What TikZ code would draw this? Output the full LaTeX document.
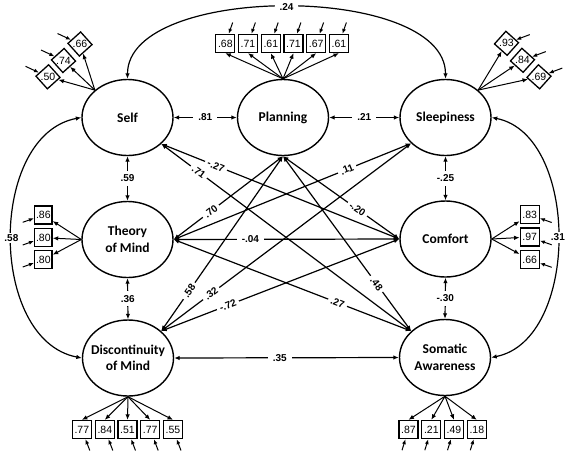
\documentclass[tikz,border=0pt]{standalone}
\usepackage{fontspec}
\newfontfamily\facfont{Carlito}
\newfontfamily\numfont{Liberation Sans}
\usetikzlibrary{arrows.meta,shapes.geometric,calc}
\tikzset{
  fac/.style={draw, ellipse, line width=1.4pt, minimum width=91pt, minimum height=76pt, inner sep=0pt},
  factxt/.style={font=\facfont\bfseries\fontsize{13.5}{16.5}\selectfont, align=center, inner sep=0pt},
  ind/.style={draw, line width=1.3pt, minimum width=19pt, minimum height=18pt, inner sep=0pt, font=\numfont\fontsize{10.5}{12}\selectfont},
  rind/.style={draw, line width=1.3pt, minimum size=17pt, inner sep=0pt, font=\numfont\fontsize{10.5}{12}\selectfont},
  cov/.style={line width=1.2pt, {Latex[length=5.5pt,width=4.5pt]}-{Latex[length=5.5pt,width=4.5pt]}},
  load/.style={line width=1pt, -{Latex[length=5.5pt,width=4.5pt]}},
  err/.style={line width=1pt, -{Latex[length=5pt,width=4pt]}},
  lab/.style={fill=white, font=\numfont\bfseries\fontsize{10}{12}\selectfont, inner xsep=5pt, inner ysep=1.5pt},
  vlab/.style={lab, inner xsep=2pt, inner ysep=4pt},
  slab/.style={lab, sloped, inner xsep=3pt, inner ysep=0.5pt},
}
\begin{document}
\begin{tikzpicture}[x=1pt,y=-1pt]
\useasboundingbox (0,0) rectangle (567,456);
% latent factors
\node[fac] (self)  at (127.5,117.5) {};
\node[fac] (plan)  at (283,117.5) {};
\node[fac] (sleep) at (445.5,117.5) {};
\node[fac] (tom)   at (127.5,239.5) {};
\node[fac] (comf)  at (445.5,239) {};
\node[fac] (disc)  at (128,358) {};
\node[fac] (soma)  at (445,357.5) {};
\node[factxt] (self-t)  at (self)  {Self};
\node[factxt] (plan-t)  at (plan)  {Planning};
\node[factxt] (sleep-t) at (sleep) {Sleepiness};
\node[factxt] (tom-t)   at (tom)   {Theory\\of Mind};
\node[factxt] (comf-t)  at (comf)  {Comfort};
\node[factxt] (disc-t)  at (disc)  {Discontinuity\\of Mind};
\node[factxt] (soma-t)  at (soma)  {Somatic\\Awareness};

% Self indicators
\foreach \x/\y/\v [count=\i] in {80/44/.66, 63.5/60.5/.74, 48/76.8/.50} {
  \node[rind, rotate=42] (s\i) at (\x,\y) {\rotatebox{-42}{\v}};
  \draw[load] (self.140) -- (s\i);
  \draw[err] ($(s\i)+(-22.5,-10.5)$) -- (s\i);
}
% Sleepiness indicators
\foreach \x/\y/\v [count=\i] in {506.5/43.3/.93, 522.5/60.3/.84, 539/76.8/.69} {
  \node[rind, rotate=-42] (z\i) at (\x,\y) {\rotatebox{42}{\v}};
  \draw[load] (sleep.40) -- (z\i);
  \draw[err] ($(z\i)+(23.3,-8.7)$) -- (z\i);
}
% Planning indicators
\foreach \x/\v [count=\i] in {225.3/.68, 248/.71, 270.8/.61, 293.5/.71, 316.2/.67, 339/.61} {
  \node[ind] (p\i) at (\x,43.5) {\v};
  \draw[load] (plan.north) -- (p\i.south);
  \draw[err] ($(p\i)+(7.4,-21)$) -- (p\i);
}
% Theory of Mind indicators
\foreach \y/\v [count=\i] in {215/.86, 237.7/.80, 259.7/.80} {
  \node[ind, minimum width=17.5pt] (t\i) at (43.3,\y) {\v};
  \draw[load] (tom.west) -- (t\i);
  \draw[err] ($(t\i)+(-20.6,7.3)$) -- (t\i);
}
% Comfort indicators
\foreach \y/\v [count=\i] in {214.7/.83, 237/.97, 259.5/.66} {
  \node[ind, minimum width=19pt] (c\i) at (529.7,\y) {\v};
  \draw[load] (comf.east) -- (c\i);
  \draw[err] ($(c\i)+(22,7.8)$) -- (c\i);
}
% Discontinuity indicators
\foreach \x/\v [count=\i] in {81.8/.77, 104.8/.84, 127.5/.51, 150.2/.77, 173/.55} {
  \node[ind] (d\i) at (\x,429.5) {\v};
  \draw[load] (disc.south) -- (d\i.north);
  \draw[err] ($(d\i)+(8,21)$) -- (d\i);
}
% Somatic indicators
\foreach \x/\v [count=\i] in {408.5/.87, 431.3/.21, 454/.49, 476.8/.18} {
  \node[ind] (m\i) at (\x,429.5) {\v};
  \draw[load] (soma.south) -- (m\i.north);
  \draw[err] ($(m\i)+(-6.5,20.7)$) -- (m\i);
}

% covariances: curves
\draw[cov] (self.north) .. controls (127.5,-17) and (445.5,-17) .. node[lab, pos=0.5]{.24} (sleep.north);
\draw[cov] (self.west) .. controls (-12,135) and (-12,340) .. node[lab, pos=0.5, inner xsep=2pt]{.58} (disc.west);
\draw[cov] (sleep.east) .. controls (580,135) and (580,340) .. node[lab, pos=0.5, inner xsep=2pt]{.31} (soma.east);

% covariances: straight, diagonals first
\draw[cov] (self.-38) -- node[slab, pos=0.23]{-.27} (comf.west);
\draw[cov] (self.-38) -- node[slab, pos=0.15]{.71} (soma.142);
\draw[cov] (plan.south) -- node[slab, pos=0.66]{.70} (tom.east);
\draw[cov] (plan.south) -- node[slab, pos=0.77]{.58} (disc.39);
\draw[cov] (plan.south) -- node[slab, pos=0.64]{-.20} (comf.west);
\draw[cov] (plan.south) -- node[slab, pos=0.73]{.48} (soma.142);
\draw[cov] (sleep.-143) -- node[slab, pos=0.27]{.11} (tom.east);
\draw[cov] (sleep.-143) -- node[slab, pos=0.80]{.32} (disc.39);
\draw[cov] (comf.west) -- node[slab, pos=0.72]{-.72} (disc.39);
\draw[cov] (tom.east) -- node[slab, pos=0.69]{.27} (soma.142);
\draw[cov] (tom.east) -- node[lab, pos=0.34]{-.04} (comf.west);

% covariances: neighbours
\draw[cov] (self.east) -- node[lab]{.81} (plan.west);
\draw[cov] (plan.east) -- node[lab]{.21} (sleep.west);
\draw[cov] (disc.east) -- node[lab, pos=0.47]{.35} (soma.west);
\draw[cov] (self.south) -- node[vlab]{.59} (tom.north);
\draw[cov] (tom.south) -- node[vlab]{.36} (disc.north);
\draw[cov] (sleep.south) -- node[vlab]{-.25} (comf.north);
\draw[cov] (comf.south) -- node[vlab]{-.30} (soma.north);
\end{tikzpicture}
\end{document}
